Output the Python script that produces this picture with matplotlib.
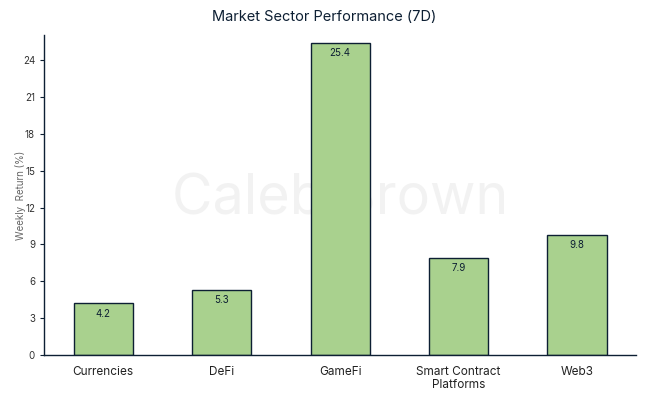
import matplotlib
matplotlib.use("Agg")
import matplotlib.pyplot as plt

categories = ["Currencies", "DeFi", "GameFi", "Smart Contract\nPlatforms", "Web3"]
returns = [4.2, 5.3, 25.4, 7.9, 9.8]
yticks = [0, 3, 6, 9, 12, 15, 18, 21, 24]

navy = "#0d1f33"
plt.rcParams['font.family'] = ['Inter', 'DejaVu Sans']

fig = plt.figure(figsize=(6.48, 3.96), dpi=100)
ax = fig.add_axes([0.068, 0.1035, 0.914, 0.808])

x = list(range(len(categories)))
bars = ax.bar(x, returns, width=0.5, color="#a9d18e", edgecolor=navy, linewidth=1.0, zorder=2)
for xi, v in zip(x, returns):
    ax.text(xi, v - 0.45, f"{v:.1f}", ha="center", va="top", fontsize=7, color=navy, zorder=3)

ax.text(0.5, 0.485, "Caleb Brown", transform=ax.transAxes, ha="center", va="center",
        fontsize=40, color="#f2f2f2", zorder=0.5)

ax.set_xlim(-0.5, 4.5)
ax.set_ylim(0, max(returns) * 1.025)
ax.set_yticks(yticks)
ax.set_xticks(x)
ax.set_xticklabels(categories, fontsize=8.5, color="#222222", linespacing=1.1)
ax.tick_params(axis="x", length=0, pad=8)
ax.tick_params(axis="y", labelsize=7, colors="#333333", length=3, color=navy)
for s in ["top", "right"]:
    ax.spines[s].set_visible(False)
for s in ["left", "bottom"]:
    ax.spines[s].set_color(navy)
    ax.spines[s].set_linewidth(1.0)
ax.set_ylabel("Weekly  Return (%)", fontsize=7, color="#666666", labelpad=-2)
fig.suptitle("Market Sector Performance (7D)", y=0.975, fontsize=10.5, color=navy)

fig.savefig("out.png", dpi=100)
